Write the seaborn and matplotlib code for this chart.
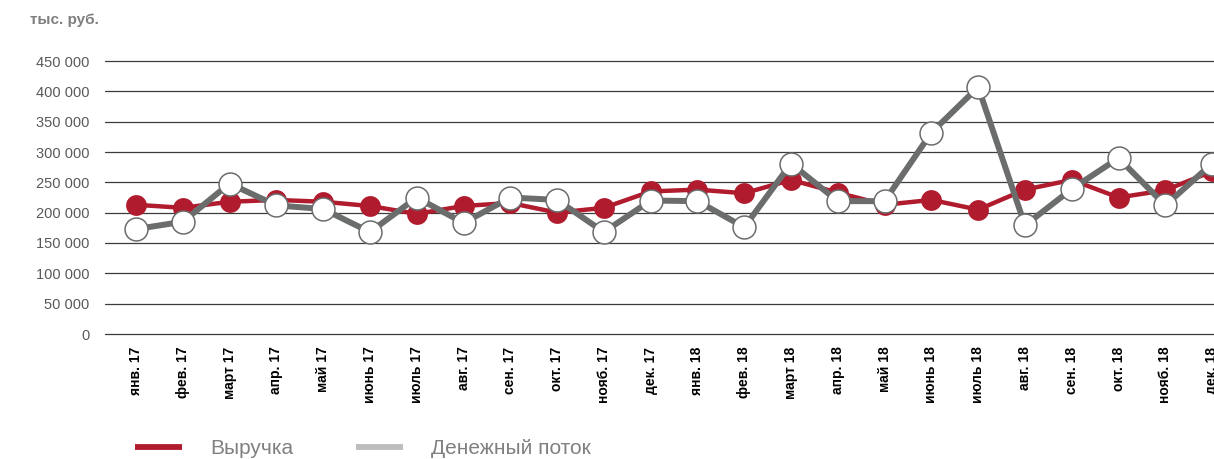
import pandas as pd
import matplotlib.pyplot as plt
from matplotlib.lines import Line2D
import seaborn as sns

months = ["янв. 17", "фев. 17", "март 17", "апр. 17", "май 17", "июнь 17",
          "июль 17", "авг. 17", "сен. 17", "окт. 17", "нояб. 17", "дек. 17",
          "янв. 18", "фев. 18", "март 18", "апр. 18", "май 18", "июнь 18",
          "июль 18", "авг. 18", "сен. 18", "окт. 18", "нояб. 18", "дек. 18"]
revenue = [213000, 208000, 218000, 221000, 218000, 211000, 198000, 211000,
           216000, 200000, 208000, 235000, 238000, 232000, 254000, 233000,
           213000, 221000, 205000, 238000, 254000, 225000, 237000, 268000]
cash_flow = [173000, 185000, 248000, 212000, 206000, 168000, 225000, 183000,
             225000, 221000, 168000, 220000, 219000, 176000, 281000, 219000,
             219000, 332000, 407000, 179000, 239000, 290000, 212000, 281000]
y_ticks = list(range(0, 450001, 50000))

RED = "#b01c2e"
GRAY = "#6b6d6d"

df = pd.DataFrame({"pos": range(len(months)), "revenue": revenue, "cash": cash_flow})

sns.set_theme(style="white")
plt.rcParams["font.family"] = ["Liberation Sans", "DejaVu Sans"]

fig = plt.figure(figsize=(12.14, 4.59), dpi=100)
ax = fig.add_axes([105 / 1214, 1 - 334 / 459, 1 - 105 / 1214, (334 - 61) / 459])

sns.lineplot(data=df, x="pos", y="revenue", ax=ax, color=RED, linewidth=3.2,
             marker="o", markersize=15, markerfacecolor=RED,
             markeredgecolor=RED, markeredgewidth=0, zorder=3)
sns.lineplot(data=df, x="pos", y="cash", ax=ax, color=GRAY, linewidth=4.3,
             marker="o", markersize=16.5, markerfacecolor="white",
             markeredgecolor=GRAY, markeredgewidth=1.1, zorder=4)

ax.set_xlim(-0.663, 23.04)
ax.set_ylim(0, 450000)
ax.set_yticks(y_ticks)
ax.set_yticklabels([f"{v:,}".replace(",", " ") for v in y_ticks],
                   color="#595959", fontsize=10.5)
ax.set_xticks(range(len(months)))
ax.set_xticklabels(months, rotation=90, fontsize=10, fontweight="bold",
                   color="black", va="top")
ax.tick_params(axis="y", length=0, pad=11)
ax.tick_params(axis="x", length=0, pad=9)
ax.set_xlabel("")
ax.set_ylabel("")
for s in ax.spines.values():
    s.set_visible(False)
for v in y_ticks:
    ax.axhline(v, color="#3c3c3c", linewidth=0.9, zorder=1, clip_on=False)

fig.text(30 / 1214, 1 - 20 / 459, "тыс. руб.", fontsize=11, fontweight="bold",
         color="#7f7f7f", va="center", ha="left")

handles = [Line2D([], [], color=RED, linewidth=4.2, solid_capstyle="butt"),
           Line2D([], [], color="#bdbdbd", linewidth=4.2, solid_capstyle="butt")]
leg = fig.legend(handles, ["Выручка", "Денежный поток"], loc="center left",
                 bbox_to_anchor=(135 / 1214, 1 - 449 / 459), ncol=2,
                 frameon=False, fontsize=15, handlelength=2.25,
                 handletextpad=1.35, columnspacing=3.0, borderpad=0,
                 borderaxespad=0)
for t in leg.get_texts():
    t.set_color("#808080")

fig.savefig("out.png", dpi=100)
